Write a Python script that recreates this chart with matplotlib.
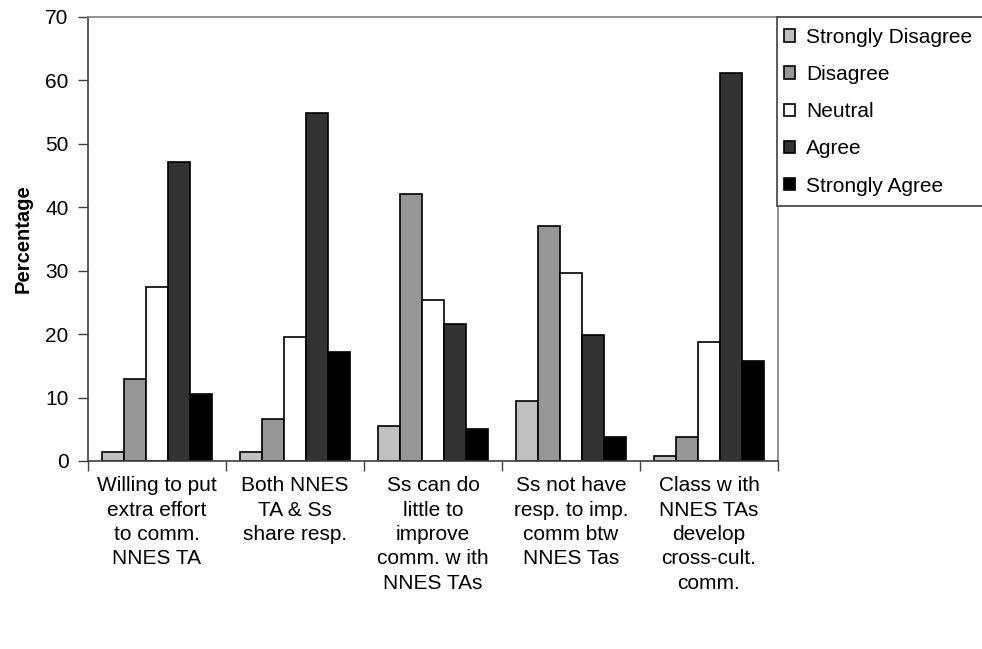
import numpy as np
import matplotlib
matplotlib.use("Agg")
import matplotlib.pyplot as plt
from matplotlib.patches import Rectangle

plt.rcParams['font.family'] = ['Liberation Sans', 'DejaVu Sans']

# datos
categorias = ["Willing to put\nextra effort\nto comm.\nNNES TA",
              "Both NNES\nTA & Ss\nshare resp.",
              "Ss can do\nlittle to\nimprove\ncomm. w ith\nNNES TAs",
              "Ss not have\nresp. to imp.\ncomm btw\nNNES Tas",
              "Class w ith\nNNES TAs\ndevelop\ncross-cult.\ncomm."]
series = ["Strongly Disagree", "Disagree", "Neutral", "Agree", "Strongly Agree"]
strongly_disagree = [1.4, 1.4, 5.5, 9.4, 0.8]
disagree = [12.9, 6.7, 42.1, 37.1, 3.8]
neutral = [27.5, 19.5, 25.4, 29.6, 18.7]
agree = [47.1, 54.9, 21.6, 19.9, 61.1]
strongly_agree = [10.6, 17.2, 5.0, 3.8, 15.7]
valores = [strongly_disagree, disagree, neutral, agree, strongly_agree]
colores = ["#C0C0C0", "#969696", "#FFFFFF", "#333333", "#000000"]
y_ticks = [0, 10, 20, 30, 40, 50, 60, 70]

fig = plt.figure(figsize=(9.82, 6.49), dpi=100)
ax = fig.add_axes([88/982, 1-461/649, (778-88)/982, (461-17)/649])

x = np.arange(len(categorias))
ancho = 0.16
barras = []
for i, (nombre, vals, col) in enumerate(zip(series, valores, colores)):
    b = ax.bar(x + (i - 2) * ancho, vals, ancho, color=col,
               edgecolor="black", linewidth=1.2, label=nombre)
    barras.append(b)

ax.set_xlim(-0.5, len(categorias) - 0.5)
ax.set_ylim(0, 70)
ax.set_yticks(y_ticks)
ax.tick_params(axis='y', labelsize=15, length=7, width=1, color="#404040", pad=7)

# marcas en los limites de cada grupo, etiquetas en el centro
ax.set_xticks(np.arange(len(categorias) + 1) - 0.5)
ax.set_xticklabels([])
ax.set_xticks(x, minor=True)
ax.set_xticklabels(categorias, minor=True, fontsize=15, linespacing=1.36)
ax.tick_params(axis='x', which='major', length=7, width=1, color="#404040")
ax.tick_params(axis='x', which='minor', length=0, pad=11)

ax.set_ylabel("Percentage", fontsize=14.5, fontweight="bold")
ax.yaxis.set_label_coords(-(88-33)/690, 0.5)

for lado in ["left", "bottom"]:
    ax.spines[lado].set_color("#404040")
    ax.spines[lado].set_linewidth(1.2)
for lado in ["top", "right"]:
    ax.spines[lado].set_color("#808080")
    ax.spines[lado].set_linewidth(1.2)

# caja de la leyenda
caja = Rectangle((777/982, 1-206/649), 0.3, (206-17)/649, transform=fig.transFigure,
                 facecolor="white", edgecolor="#404040", linewidth=1.2, zorder=5)
fig.patches.append(caja)
leg = fig.legend(handles=barras, labels=series, loc="upper left",
                 bbox_to_anchor=(784/982, 1-28/649), frameon=False, fontsize=15,
                 handlelength=0.55, handleheight=0.55, handletextpad=0.5,
                 labelspacing=0.87, borderaxespad=0, borderpad=0)
leg.set_zorder(6)

fig.savefig("out.png", dpi=100)
